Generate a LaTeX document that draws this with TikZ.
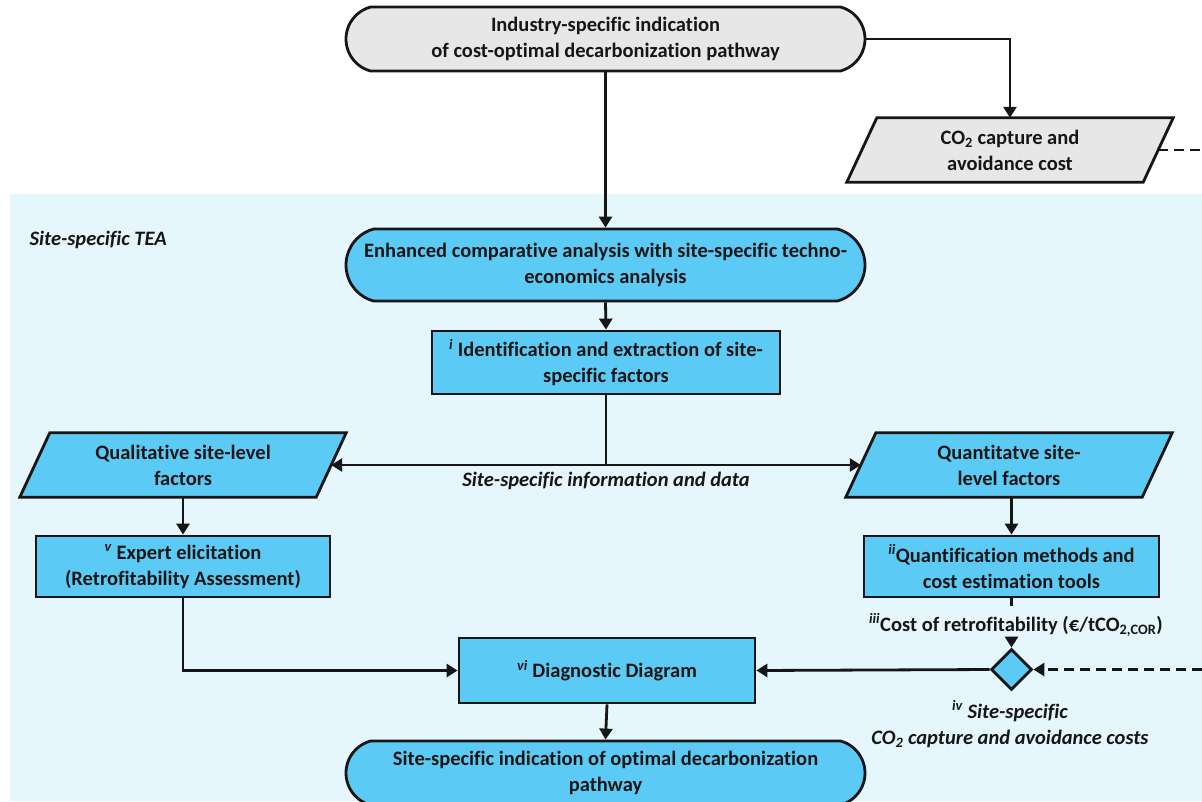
\documentclass[tikz,border=0pt]{standalone}
\usepackage{fontspec}
\setmainfont{Carlito}[Ligatures=CommonOff]
\usetikzlibrary{arrows.meta,shapes.misc,shapes.geometric}
\pgfdeclarelayer{back}
\pgfdeclarelayer{bg}
\pgfsetlayers{back,bg,main}
\definecolor{bluefill}{RGB}{91,203,246}
\definecolor{bgblue}{RGB}{229,246,253}
\definecolor{grayfill}{RGB}{231,231,231}
\definecolor{ink}{RGB}{22,22,22}
\newcommand\romsup[1]{\textsuperscript{\itshape #1}}
\newcommand\parashape[2]{\begin{pgfonlayer}{bg}\draw[ink,line width=2.8pt,fill=#2] ([xshift=-15pt]#1.south west) -- ([xshift=-15pt]#1.south east) -- ([xshift=15pt]#1.north east) -- ([xshift=15pt]#1.north west) -- cycle;\end{pgfonlayer}}
\begin{document}
\begin{tikzpicture}[x=1pt,y=-1pt,
  conn/.style={ink, line width=2.8pt},
  >={Triangle[length=11pt,width=13pt]},
  every node/.style={font=\bfseries\fontsize{20.5}{26}\selectfont, text=ink},
  term/.style={rounded rectangle, rounded rectangle arc length=150, draw=ink, line width=2.8pt, minimum width=519pt, minimum height=64pt, inner sep=0pt, align=center},
  proc/.style={rectangle, draw=ink, line width=2.8pt, fill=bluefill, inner sep=0pt, align=center},
  para/.style={rectangle, inner sep=0pt, minimum width=296pt, minimum height=64pt, align=center},
  lbl/.style={font=\bfseries\itshape\fontsize{20.5}{26}\selectfont, align=center},
  dashline/.style={dash pattern=on 10pt off 6pt}]
\useasboundingbox (0,0) rectangle (1202,801);
\begin{pgfonlayer}{back}
\fill[bgblue] (10,194) rectangle (1202,801);
\end{pgfonlayer}

\node[term, fill=grayfill] (top) at (605.5,39) {Industry-specific indication\\of cost-optimal decarbonization pathway};
\node[para] (co2) at (1010,150) {CO\textsubscript{2} capture and\\avoidance cost};
\parashape{co2}{grayfill}

\node[lbl, anchor=west] (tea) at (26,240) {Site-specific TEA};
\node[term, fill=bluefill, minimum height=72pt] (enh) at (605.5,265) {Enhanced comparative analysis with site-specific techno-\\economics analysis};
\node[proc, minimum width=348pt, minimum height=63pt] (ident) at (606,362.5) {\romsup{i} Identification and extraction of site-\\specific factors};

\node[para] (qual) at (183,465) {Qualitative site-level\\factors};
\parashape{qual}{bluefill}
\node[para] (quant) at (1009,465) {Quantitatve site-\\level factors};
\parashape{quant}{bluefill}
\node[lbl] (info) at (606,481) {Site-specific information and data};
\coordinate (hub) at (606,465);

\node[proc, minimum width=294pt, minimum height=61pt] (expert) at (183,566.5) {\romsup{v} Expert elicitation\\(Retrofitability Assessment)};
\node[proc, minimum width=295pt, minimum height=61pt] (qmeth) at (1011.5,566.5) {\romsup{ii}Quantification methods and\\cost estimation tools};

\node (cost) at (1016,625) {\romsup{iii}Cost of retrofitability (€/tCO\textsubscript{2,COR})};
\coordinate (costin) at (1011.5,641);
\node[diamond, draw=ink, line width=2.8pt, fill=bluefill, minimum width=41pt, minimum height=41pt, inner sep=0pt] (dia) at (1011.5,669.5) {};
\node[lbl] (sitecost) at (1010,724) {\romsup{iv} Site-specific\\CO\textsubscript{2} capture and avoidance costs};

\node[proc, minimum width=296pt, minimum height=65pt] (diag) at (607,670.5) {\romsup{vi} Diagnostic Diagram};
\node[term, fill=bluefill, minimum height=64pt] (fin) at (605.5,773) {Site-specific indication of optimal decarbonization\\pathway};

\coordinate (edgeA) at (1202,150);
\coordinate (edgeB) at (1202,669.5);

\draw[conn,->] (top.south) -- (enh.north);
\draw[conn,->] (top.east) -| (co2.north);
\draw[conn,dashline] (co2.east) -- (edgeA);
\draw[conn,->] (enh.south) -- (ident.north);
\draw[conn] (ident.south) -- (hub);
\draw[conn,->] (hub) -- (qual.east);
\draw[conn,->] (hub) -- (quant.west);
\draw[conn,->] (qual.south) -- (expert.north);
\draw[conn,->] (quant.south -| qmeth.north) -- (qmeth.north);
\draw[conn] (qmeth.south) -- ++(0,8);
\draw[conn,->] (costin) -- (dia.north);
\draw[conn,->] (expert.south) |- (diag.west);
\draw[conn,->] (dia.west) -- (diag.east);
\draw[conn,dashline,->] (edgeB) -- (dia.east);
\draw[conn,->] (diag.south) -- (fin.north);
\end{tikzpicture}
\end{document}
